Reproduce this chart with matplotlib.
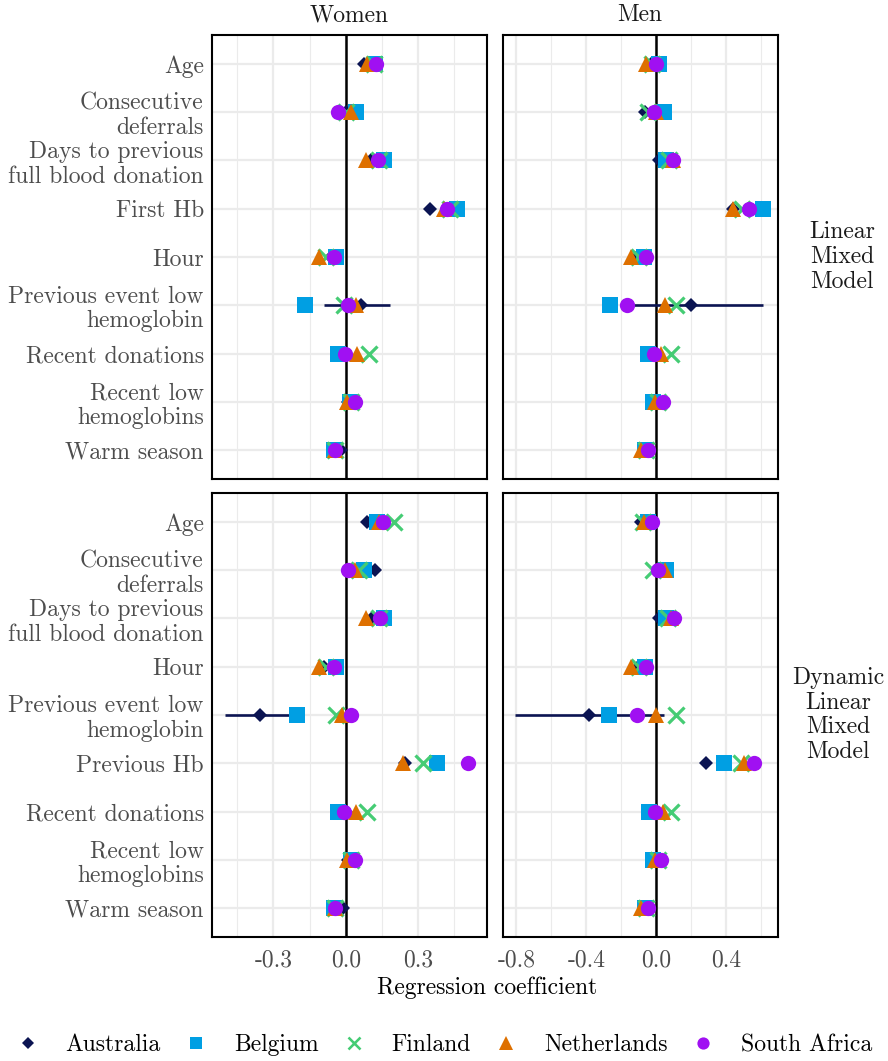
import numpy as np
import matplotlib
matplotlib.use("Agg")
import matplotlib.pyplot as plt
from matplotlib.lines import Line2D

plt.rcParams['font.family'] = ['cmr10', 'DejaVu Serif']
plt.rcParams['axes.unicode_minus'] = False

# variables (top to bottom)
vars_lmm = ['Age', 'Consecutive\ndeferrals', 'Days to previous\nfull blood donation', 'First Hb', 'Hour',
            'Previous event low\nhemoglobin', 'Recent donations', 'Recent low\nhemoglobins', 'Warm season']
vars_dlmm = ['Age', 'Consecutive\ndeferrals', 'Days to previous\nfull blood donation', 'Hour',
             'Previous event low\nhemoglobin', 'Previous Hb', 'Recent donations', 'Recent low\nhemoglobins',
             'Warm season']

countries = ['Australia', 'Belgium', 'Finland', 'Netherlands', 'South Africa']

# Linear mixed model, women
lmm_women_aus = [0.075, 0.0, 0.103, 0.35, -0.06, 0.062, 0.0, 0.01, -0.02]
lmm_women_bel = [0.12, 0.044, 0.16, 0.462, -0.04, -0.169, -0.034, 0.018, -0.048]
lmm_women_fin = [0.115, 0.0, 0.137, 0.432, -0.08, -0.007, 0.096, 0.02, -0.045]
lmm_women_ned = [0.09, 0.02, 0.085, 0.405, -0.111, 0.041, 0.048, 0.004, -0.045]
lmm_women_rsa = [0.125, -0.034, 0.134, 0.418, -0.049, 0.011, -0.003, 0.038, -0.044]
lmm_women_aus_ci = [-0.089, 0.185]   # previous event low hemoglobin

# Linear mixed model, men
lmm_men_aus = [-0.03, -0.065, 0.013, 0.436, -0.11, 0.198, 0.0, 0.0, -0.06]
lmm_men_bel = [0.013, 0.042, 0.055, 0.611, -0.069, -0.263, -0.05, -0.021, -0.065]
lmm_men_fin = [-0.025, -0.05, 0.074, 0.49, -0.097, 0.112, 0.084, 0.008, -0.06]
lmm_men_ned = [-0.059, 0.0, 0.093, 0.436, -0.143, 0.05, 0.027, -0.011, -0.088]
lmm_men_rsa = [-0.002, -0.015, 0.093, 0.531, -0.057, -0.168, -0.015, 0.036, -0.05]
lmm_men_aus_ci = [-0.21, 0.607]

# Dynamic linear mixed model, women
dlmm_women_aus = [0.089, 0.121, 0.11, -0.089, -0.357, 0.247, 0.0, 0.01, -0.01]
dlmm_women_bel = [0.13, 0.075, 0.16, -0.041, -0.2, 0.377, -0.034, 0.02, -0.048]
dlmm_women_fin = [0.199, 0.055, 0.137, -0.082, -0.041, 0.32, 0.089, 0.02, -0.045]
dlmm_women_ned = [0.137, 0.038, 0.085, -0.112, -0.014, 0.236, 0.044, 0.004, -0.045]
dlmm_women_rsa = [0.154, 0.011, 0.14, -0.048, 0.021, 0.505, -0.007, 0.037, -0.044]
dlmm_women_aus_ci = [-0.5, -0.214]

# Dynamic linear mixed model, men
dlmm_men_aus = [-0.09, 0.03, 0.013, -0.107, -0.383, 0.284, 0.0, 0.0, -0.06]
dlmm_men_bel = [-0.05, 0.055, 0.055, -0.065, -0.269, 0.389, -0.04, -0.021, -0.067]
dlmm_men_fin = [-0.078, -0.021, 0.065, -0.1, 0.112, 0.484, 0.084, 0.008, -0.06]
dlmm_men_ned = [-0.072, 0.05, 0.084, -0.145, -0.002, 0.499, 0.036, -0.008, -0.088]
dlmm_men_rsa = [-0.027, 0.008, 0.099, -0.059, -0.112, 0.556, -0.008, 0.027, -0.046]
dlmm_men_aus_ci = [-0.811, 0.045]

women_ticks = [-0.3, 0.0, 0.3]
women_minor = [-0.45, -0.15, 0.15, 0.45]
men_ticks = [-0.8, -0.4, 0.0, 0.4]
men_minor = [-0.6, -0.2, 0.2, 0.6]

styles = {
    'Australia':    dict(marker='D', color='#0B1452', ms=7.5, mew=0),
    'Belgium':      dict(marker='s', color='#009FE3', ms=11.5, mew=0),
    'Finland':      dict(marker='x', color='#45CC74', ms=11.5, mew=2.3),
    'Netherlands':  dict(marker='^', color='#DE7000', ms=12.0, mew=0),
    'South Africa': dict(marker='o', color='#A010F2', ms=11.0, mew=0),
}

FS = 17
W, H = 888, 1061
fig = plt.figure(figsize=(W / 100, H / 100), dpi=100)


def panel_axes(x0, x1, y0, y1):
    return fig.add_axes([x0 / W, 1 - y1 / H, (x1 - x0) / W, (y1 - y0) / H])


panels = [
    # (left,right,top,bottom) in pixels, vars, series, ci row, ci, xlim, ticks, minor, left?, bottom?
    ((212, 487, 35, 479), vars_lmm,
     [lmm_women_aus, lmm_women_bel, lmm_women_fin, lmm_women_ned, lmm_women_rsa],
     5, lmm_women_aus_ci, (-0.554, 0.585), women_ticks, women_minor, True, False),
    ((502.5, 778, 35, 479), vars_lmm,
     [lmm_men_aus, lmm_men_bel, lmm_men_fin, lmm_men_ned, lmm_men_rsa],
     5, lmm_men_aus_ci, (-0.88, 0.695), men_ticks, men_minor, False, False),
    ((212, 487, 493, 937), vars_dlmm,
     [dlmm_women_aus, dlmm_women_bel, dlmm_women_fin, dlmm_women_ned, dlmm_women_rsa],
     4, dlmm_women_aus_ci, (-0.554, 0.585), women_ticks, women_minor, True, True),
    ((502.5, 778, 493, 937), vars_dlmm,
     [dlmm_men_aus, dlmm_men_bel, dlmm_men_fin, dlmm_men_ned, dlmm_men_rsa],
     4, dlmm_men_aus_ci, (-0.88, 0.695), men_ticks, men_minor, False, True),
]

for box, labels, series, ci_row, ci, xlim, ticks, minor, show_y, show_x in panels:
    ax = panel_axes(*box)
    n = len(labels)
    ypos = np.arange(n)
    ax.set_xlim(*xlim)
    ax.set_ylim(n - 1 + 0.6, -0.6)
    ax.set_yticks(ypos)
    ax.set_yticklabels(labels if show_y else [], linespacing=1.15)
    ax.set_xticks(ticks)
    ax.set_xticks(minor, minor=True)
    ax.set_xticklabels([f'{t:.1f}' for t in ticks] if show_x else [])
    ax.grid(which='major', color='#EBEBEB', lw=1.6)
    ax.grid(which='minor', axis='x', color='#EBEBEB', lw=0.8)
    ax.set_axisbelow(True)
    ax.tick_params(which='both', length=0, labelsize=FS, labelcolor='#4D4D4D')
    ax.tick_params(axis='y', pad=6)
    ax.tick_params(axis='x', pad=9)
    for sp in ax.spines.values():
        sp.set_linewidth(1.5)
        sp.set_color('black')
    ax.axvline(0, color='black', lw=1.8, zorder=1.5)

    # confidence interval for Australia
    ax.hlines(ci_row, ci[0], ci[1], color=styles['Australia']['color'], lw=1.9, zorder=2)
    for k, (name, vals) in enumerate(zip(countries, series)):
        st = styles[name]
        ax.plot(vals, ypos, ls='none', marker=st['marker'], color=st['color'],
                markersize=st['ms'], markeredgewidth=st['mew'], zorder=3 + k)

# strip labels
fig.text(349.5 / W, 1 - 15 / H, 'Women', ha='center', va='center', fontsize=FS, color='#1A1A1A')
fig.text(640 / W, 1 - 15 / H, 'Men', ha='center', va='center', fontsize=FS, color='#1A1A1A')
fig.text(842 / W, 1 - 257 / H, 'Linear\nMixed\nModel', ha='center', va='center',
         fontsize=FS, color='#1A1A1A', linespacing=1.15)
fig.text(838 / W, 1 - 715 / H, 'Dynamic\nLinear\nMixed\nModel', ha='center', va='center',
         fontsize=FS, color='#1A1A1A', linespacing=1.15)

fig.text(487 / W, 1 - 988 / H, 'Regression coefficient', ha='center', va='center',
         fontsize=FS, color='black')

handles = [Line2D([], [], ls='none', marker=styles[c]['marker'], color=styles[c]['color'],
                  markersize=styles[c]['ms'] * 0.8, markeredgewidth=styles[c]['mew'] * 0.8)
           for c in countries]
fig.legend(handles, countries, loc='center', bbox_to_anchor=(0.5, 1 - 1045 / H), ncol=5,
           frameon=False, fontsize=FS, handlelength=1.0, handletextpad=1.1, columnspacing=1.0)

fig.savefig('out.png', dpi=100)
